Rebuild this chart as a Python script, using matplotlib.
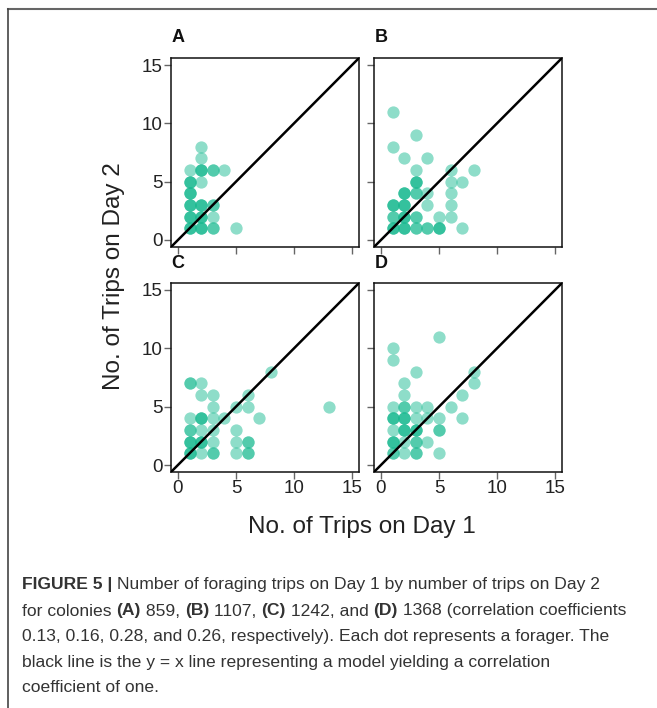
import numpy as np
import matplotlib
matplotlib.use('Agg')
import matplotlib.pyplot as plt
from matplotlib.lines import Line2D

plt.rcParams['font.family'] = ['Liberation Sans', 'DejaVu Sans']

# trips on day 1 (x), trips on day 2 (y), number of foragers at that spot (n)
a_x = [1, 1, 1, 1, 1, 1, 2, 2, 2, 2, 2, 2, 2, 3, 3, 3, 3, 4, 5]
a_y = [1, 2, 3, 4, 5, 6, 1, 2, 3, 5, 6, 7, 8, 1, 2, 3, 6, 6, 1]
a_n = [3, 3, 3, 3, 3, 1, 3, 3, 3, 1, 3, 1, 1, 2, 1, 2, 2, 1, 1]

b_x = [1, 1, 1, 1, 1, 2, 2, 2, 2, 2, 3, 3, 3, 3, 3, 3, 4, 4, 4, 4, 5, 5, 6, 6, 6, 6, 6, 7, 7, 8]
b_y = [1, 2, 3, 8, 11, 1, 2, 3, 4, 7, 1, 2, 4, 5, 6, 9, 1, 3, 4, 7, 1, 2, 2, 3, 4, 5, 6, 1, 5, 6]
b_n = [3, 2, 3, 1, 1, 3, 3, 3, 3, 1, 2, 2, 2, 3, 1, 1, 2, 1, 1, 1, 3, 1, 1, 1, 1, 1, 1, 1, 1, 1]

c_x = [1, 1, 1, 1, 1, 2, 2, 2, 2, 2, 2, 3, 3, 3, 3, 3, 3, 4, 5, 5, 5, 5, 6, 6, 6, 6, 7, 8, 13]
c_y = [1, 2, 3, 4, 7, 1, 2, 3, 4, 6, 7, 1, 2, 3, 4, 5, 6, 4, 1, 2, 3, 5, 1, 2, 5, 6, 4, 8, 5]
c_n = [3, 3, 2, 1, 2, 1, 3, 1, 3, 1, 1, 2, 1, 1, 1, 1, 1, 1, 1, 1, 1, 1, 2, 2, 1, 1, 1, 1, 1]

d_x = [1, 1, 1, 1, 1, 1, 1, 2, 2, 2, 2, 2, 2, 2, 3, 3, 3, 3, 3, 3, 4, 4, 4, 5, 5, 5, 5, 6, 7, 7, 8, 8]
d_y = [1, 2, 3, 4, 5, 9, 10, 1, 2, 3, 4, 5, 6, 7, 1, 2, 3, 4, 5, 8, 2, 4, 5, 1, 3, 4, 11, 5, 4, 6, 7, 8]
d_n = [2, 3, 1, 3, 1, 1, 1, 1, 1, 3, 3, 2, 1, 1, 2, 2, 3, 1, 1, 1, 1, 1, 1, 1, 2, 1, 1, 1, 1, 1, 1, 1]

panel_labels = ['A', 'B', 'C', 'D']
ticks = [0, 5, 10, 15]

W, H = 657, 708
fig = plt.figure(figsize=(W / 100, H / 100), dpi=100)

def fx(px):
    return px / W

def fy(py):
    return 1 - py / H

# outer frame of the figure box
fig.add_artist(Line2D([fx(8), 1], [fy(9), fy(9)], color='#666666', lw=1.5))
fig.add_artist(Line2D([fx(8), fx(8)], [fy(9), 0], color='#444444', lw=1.2))

lefts = [171, 374]
tops = [58, 283]
aw, ah = 188, 189
datasets = [(a_x, a_y, a_n), (b_x, b_y, b_n), (c_x, c_y, c_n), (d_x, d_y, d_n)]

for i, (xs, ys, ns) in enumerate(datasets):
    row, col = divmod(i, 2)
    l, t = lefts[col], tops[row]
    ax = fig.add_axes([fx(l), fy(t + ah), fx(aw), ah / H])
    px = np.repeat(xs, ns)
    py = np.repeat(ys, ns)
    ax.scatter(px, py, s=78, color='#14b88e', alpha=0.48, linewidths=0, zorder=2)
    ax.plot([-0.6, 15.6], [-0.6, 15.6], color='black', lw=1.8, zorder=3)
    ax.set_xlim(-0.6, 15.6)
    ax.set_ylim(-0.6, 15.6)
    ax.set_xticks(ticks)
    ax.set_yticks(ticks)
    ax.tick_params(direction='out', length=5, width=1, color='#666666',
                   labelsize=13.5, labelcolor='#222222', pad=1)
    if row == 0:
        ax.tick_params(labelbottom=False)
    if col == 1:
        ax.tick_params(labelleft=False)
    for sp in ax.spines.values():
        sp.set_color('#111111')
        sp.set_linewidth(1.1)
    fig.text(fx(l + 7), fy(t - 20), panel_labels[i], fontsize=13, fontweight='bold',
             ha='center', va='center', color='#111111')

fig.text(fx(114), fy(276), 'No. of Trips on Day 2', rotation=90, fontsize=17.5,
         ha='center', va='center', color='#222222')
fig.text(fx(362), fy(527), 'No. of Trips on Day 1', fontsize=17.5,
         ha='center', va='center', color='#222222')

# caption, drawn piece by piece so bold parts sit inline
cap_font = ['Liberation Sans', 'DejaVu Sans']
caption = [
    [('FIGURE 5 | ', 'bold'), ('Number of foraging trips on Day 1 by number of trips on Day 2', 'normal')],
    [('for colonies ', 'normal'), ('(A)', 'bold'), (' 859, ', 'normal'), ('(B)', 'bold'),
     (' 1107, ', 'normal'), ('(C)', 'bold'), (' 1242, and ', 'normal'), ('(D)', 'bold'),
     (' 1368 (correlation coefficients', 'normal')],
    [('0.13, 0.16, 0.28, and 0.26, respectively). Each dot represents a forager. The', 'normal')],
    [('black line is the y = x line representing a model yielding a correlation', 'normal')],
    [('coefficient of one.', 'normal')],
]
line_y = [585, 611, 636, 662, 687]

fig.canvas.draw()
renderer = fig.canvas.get_renderer()
for parts, yy in zip(caption, line_y):
    x0 = 22
    for txt, wt in parts:
        t = fig.text(fx(x0), fy(yy), txt, fontsize=12.6, fontweight=wt, family=cap_font,
                     ha='left', va='center', color='#333333')
        bb = t.get_window_extent(renderer=renderer)
        x0 += bb.width

fig.savefig('out.png', dpi=100)
